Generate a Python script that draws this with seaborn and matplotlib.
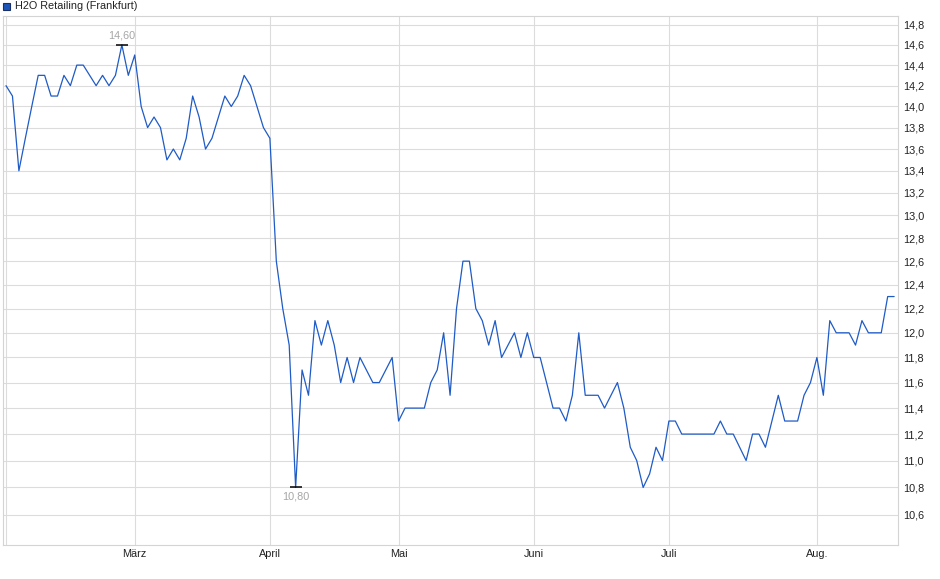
import pandas as pd
import numpy as np
import matplotlib
matplotlib.use("Agg")
import matplotlib.pyplot as plt
import seaborn as sns
from matplotlib.ticker import FixedLocator, FuncFormatter, NullLocator
from matplotlib.patches import Rectangle

# Trading days (Frankfurt), 03.02.2025 - 19.08.2025
holidays = ["2025-04-18", "2025-04-21", "2025-05-01"]
days = pd.bdate_range("2025-02-03", "2025-08-19")
days = days[~days.isin(pd.to_datetime(holidays))]

# closing prices
prices = [
    14.2, 14.1, 13.4, 13.7, 14.0, 14.3, 14.3, 14.1, 14.1, 14.3,
    14.2, 14.4, 14.4, 14.3, 14.2, 14.3, 14.2, 14.3, 14.6, 14.3,
    14.5, 14.0, 13.8, 13.9, 13.8, 13.5, 13.6, 13.5, 13.7, 14.1,
    13.9, 13.6, 13.7, 13.9, 14.1, 14.0, 14.1, 14.3, 14.2, 14.0,
    13.8, 13.7, 12.6, 12.2, 11.9, 10.8, 11.7, 11.5, 12.1, 11.9,
    12.1, 11.9, 11.6, 11.8, 11.6, 11.8, 11.7, 11.6, 11.6, 11.7,
    11.8, 11.3, 11.4, 11.4, 11.4, 11.4, 11.6, 11.7, 12.0, 11.5,
    12.2, 12.6, 12.6, 12.2, 12.1, 11.9, 12.1, 11.8, 11.9, 12.0,
    11.8, 12.0, 11.8, 11.8, 11.6, 11.4, 11.4, 11.3, 11.5, 12.0,
    11.5, 11.5, 11.5, 11.4, 11.5, 11.6, 11.4, 11.1, 11.0, 10.8,
    10.9, 11.1, 11.0, 11.3, 11.3, 11.2, 11.2, 11.2, 11.2, 11.2,
    11.2, 11.3, 11.2, 11.2, 11.1, 11.0, 11.2, 11.2, 11.1, 11.3,
    11.5, 11.3, 11.3, 11.3, 11.5, 11.6, 11.8, 11.5, 12.1, 12.0,
    12.0, 12.0, 11.9, 12.1, 12.0, 12.0, 12.0, 12.3, 12.3,
]
month_labels = ["März", "April", "Mai", "Juni", "Juli", "Aug."]
y_ticks = [10.6, 10.8, 11.0, 11.2, 11.4, 11.6, 11.8, 12.0, 12.2, 12.4,
           12.6, 12.8, 13.0, 13.2, 13.4, 13.6, 13.8, 14.0, 14.2, 14.4,
           14.6, 14.8]

df = pd.DataFrame({"date": days, "price": prices})
df["idx"] = np.arange(len(df))

# first trading day of each month from March on
firsts = df.groupby(df["date"].dt.to_period("M"))["idx"].min().iloc[1:].tolist()

sns.set_style("white")
plt.rcParams["font.family"] = ["Liberation Sans", "DejaVu Sans"]

grid_c = "#dcdcdc"
line_c = "#1f5bc6"
fs = 7.8

fig = plt.figure(figsize=(9.4, 5.79), dpi=100)
ax = fig.add_axes([3 / 940, 34 / 579, 895 / 940, 529 / 579])

sns.lineplot(data=df, x="idx", y="price", ax=ax, color=line_c, linewidth=0.9)

ax.set_yscale("log")
ax.set_ylim(10.385, 14.89)
ax.set_xlim(-0.47, 138.6)
ax.yaxis.set_major_locator(FixedLocator(y_ticks))
ax.yaxis.set_minor_locator(NullLocator())
ax.yaxis.set_major_formatter(FuncFormatter(lambda v, p: f"{v:.1f}".replace(".", ",")))
ax.yaxis.tick_right()
ax.set_xticks(firsts)
ax.set_xticklabels(month_labels)
ax.xaxis.set_minor_locator(NullLocator())
ax.tick_params(axis="y", length=0, pad=4, labelsize=fs, colors="#222222")
ax.tick_params(axis="x", length=0, pad=3, labelsize=fs, colors="#222222")
ax.set_xlabel("")
ax.set_ylabel("")

ax.grid(True, color=grid_c, linewidth=0.8)
ax.axvline(0, color=grid_c, linewidth=0.8, zorder=0)
ax.set_axisbelow(True)
for s in ax.spines.values():
    s.set_color("#d4d4d4")
    s.set_linewidth(0.8)

# high / low markers
i_max = int(df["price"].idxmax())
i_min = int(df["price"].idxmin())
ann_c = "#a6a6a6"
for i, off, va in [(i_max, 3, "bottom"), (i_min, -3, "top")]:
    v = df.loc[i, "price"]
    ax.plot([i], [v], marker="_", markersize=9, markeredgewidth=1.1, color="black")
    ax.annotate(f"{v:.2f}".replace(".", ","), (i, v), xytext=(0, off),
                textcoords="offset points", ha="center", va=va,
                fontsize=fs, color=ann_c)

# legend square + title
fig.patches.append(Rectangle((3 / 940, 1 - 10 / 579), 7 / 940, 7 / 579,
                             transform=fig.transFigure, facecolor="#1c55b8",
                             edgecolor="#1a2f66", linewidth=0.8))
fig.text(15 / 940, 1 - 6 / 579, "H2O Retailing (Frankfurt)", fontsize=fs,
         va="center", ha="left", color="#222222")

fig.savefig("out.png", dpi=100)
plt.close(fig)
